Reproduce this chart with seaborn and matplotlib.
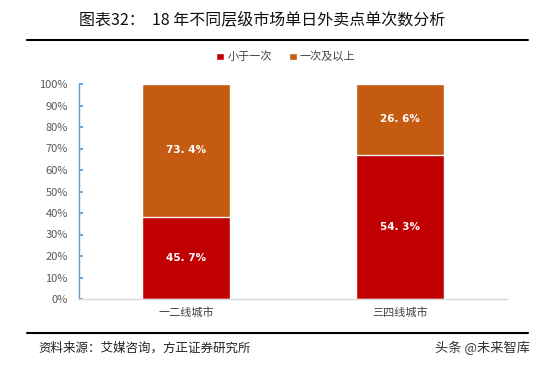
import matplotlib
matplotlib.use("Agg")
import matplotlib.pyplot as plt
import seaborn as sns
import numpy as np
import pandas as pd
from matplotlib.ticker import FuncFormatter
from matplotlib.lines import Line2D
from matplotlib.patches import Patch

categories = ["一二线城市", "三四线城市"]
series_names = ["小于一次", "一次及以上"]
once_less = [45.7, 54.3]
once_more = [73.4, 26.6]
yticks = [0, 10, 20, 30, 40, 50, 60, 70, 80, 90, 100]

sns.set_theme(style="white")
plt.rcParams['font.family'] = ['Noto Sans CJK SC', 'DejaVu Sans']

RED = "#C00000"
ORANGE = "#C55A11"

less = np.array(once_less)
more = np.array(once_more)
tot = less + more
less_share = less / tot * 100
df = pd.DataFrame({"cat": categories, "total": [100.0] * len(categories), "less": less_share})

fig = plt.figure(figsize=(5.56, 3.66), dpi=100)
ax = fig.add_axes([79 / 556, 1 - 299 / 366, (507 - 79) / 556, (299 - 84) / 366])

sns.barplot(data=df, x="cat", y="total", color=ORANGE, width=0.41, ax=ax, saturation=1)
sns.barplot(data=df, x="cat", y="less", color=RED, width=0.41, ax=ax, saturation=1)

for i in range(len(categories)):
    ax.text(i, less_share[i] / 2, f"{once_less[i]:.1f}%".replace(".", ". "), color="white",
            ha="center", va="center", fontsize=7.5, fontweight="bold", family="DejaVu Sans")
    ax.text(i, less_share[i] + (100 - less_share[i]) / 2, f"{once_more[i]:.1f}%".replace(".", ". "),
            color="white", ha="center", va="center", fontsize=7.5, fontweight="bold", family="DejaVu Sans")

ax.set_xlim(-0.5, 1.5)
ax.set_ylim(0, 100)
ax.set_yticks(yticks)
ax.yaxis.set_major_formatter(FuncFormatter(lambda v, p: f"{int(v)}%"))
ax.set_xlabel("")
ax.set_ylabel("")
for s in ["top", "right"]:
    ax.spines[s].set_visible(False)
ax.spines["left"].set_color("#5B9BD5")
ax.spines["left"].set_linewidth(1.0)
ax.spines["bottom"].set_color("#D9D9D9")
ax.spines["bottom"].set_linewidth(1.0)
ax.tick_params(axis="y", direction="in", length=3, color="#5B9BD5", labelsize=8,
               labelcolor="#595959", left=True, pad=8)
ax.tick_params(axis="x", length=0, labelsize=8, labelcolor="#404040", pad=6)

handles = [Patch(facecolor=RED, label=series_names[0]), Patch(facecolor=ORANGE, label=series_names[1])]
fig.legend(handles=handles, loc="center", bbox_to_anchor=(286 / 556, 1 - 57 / 366), ncol=2,
           frameon=False, fontsize=8, handlelength=0.7, handleheight=0.7, handletextpad=0.3,
           columnspacing=1.5, labelcolor="#404040")

fig.text(262 / 556, 1 - 20 / 366, "图表32：  18 年不同层级市场单日外卖点单次数分析", ha="center", va="center",
         fontsize=11.5, color="#111111")
fig.add_artist(Line2D([27 / 556, 528 / 556], [1 - 40 / 366, 1 - 40 / 366], color="black", lw=1.5))
fig.add_artist(Line2D([27 / 556, 528 / 556], [1 - 333 / 366, 1 - 333 / 366], color="black", lw=1.5))
fig.text(38 / 556, 1 - 348 / 366, "资料来源：艾媒咨询，方正证券研究所", ha="left", va="center",
         fontsize=9, color="#222222", style="italic")
fig.text(530 / 556, 1 - 348 / 366, "头条 @未来智库", ha="right", va="center", fontsize=9.5, color="#333333")

fig.savefig("out.png", dpi=100)
